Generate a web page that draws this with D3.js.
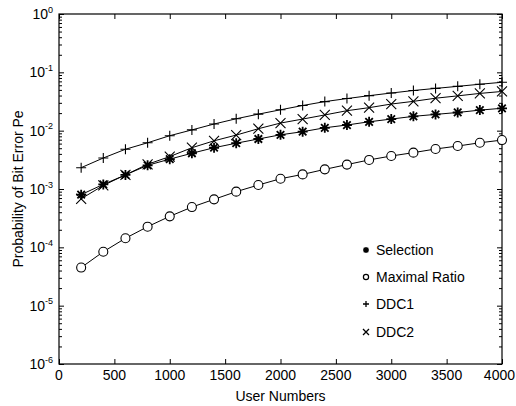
<!DOCTYPE html>
<html>
<head>
<meta charset="utf-8">
<script src="https://cdn.jsdelivr.net/npm/d3@7"></script>
<style>
  html, body { margin: 0; padding: 0; background: #fff; }
  svg text { font-family: "Liberation Sans", Arial, sans-serif; fill: #000; }
</style>
</head>
<body>
<svg id="chart" width="516" height="406"></svg>
<script>
// ---- data ----
const users = [200, 400, 600, 800, 1000, 1200, 1400, 1600, 1800, 2000,
               2200, 2400, 2600, 2800, 3000, 3200, 3400, 3600, 3800, 4000];
const selection = [8.0e-4, 1.2e-3, 1.74e-3, 2.55e-3, 3.25e-3, 4.1e-3, 5.1e-3, 6.1e-3, 7.2e-3, 8.5e-3,
                   9.6e-3, 1.12e-2, 1.25e-2, 1.42e-2, 1.58e-2, 1.76e-2, 1.9e-2, 2.05e-2, 2.25e-2, 2.42e-2];
const maximalRatio = [4.5e-5, 8.4e-5, 1.43e-4, 2.26e-4, 3.4e-4, 4.9e-4, 6.65e-4, 9.0e-4, 1.17e-3, 1.5e-3,
                      1.78e-3, 2.17e-3, 2.62e-3, 3.15e-3, 3.68e-3, 4.2e-3, 4.85e-3, 5.45e-3, 6.2e-3, 6.9e-3];
const ddc1 = [2.32e-3, 3.4e-3, 4.8e-3, 6.2e-3, 8.2e-3, 1.03e-2, 1.3e-2, 1.6e-2, 1.92e-2, 2.28e-2,
              2.7e-2, 3.15e-2, 3.55e-2, 3.98e-2, 4.42e-2, 4.88e-2, 5.3e-2, 5.75e-2, 6.25e-2, 6.75e-2];
const ddc2 = [6.8e-4, 1.15e-3, 1.75e-3, 2.65e-3, 3.6e-3, 5.1e-3, 6.7e-3, 8.4e-3, 1.08e-2, 1.35e-2,
              1.58e-2, 1.86e-2, 2.2e-2, 2.48e-2, 2.86e-2, 3.18e-2, 3.6e-2, 3.95e-2, 4.35e-2, 4.7e-2];
const seriesNames = ["Selection", "Maximal Ratio", "DDC1", "DDC2"];
const seriesMarkers = ["star", "circle", "plus", "cross"];
const xTickValues = [0, 500, 1000, 1500, 2000, 2500, 3000, 3500, 4000];
const yExponents = [0, -1, -2, -3, -4, -5, -6];
const xTitle = "User Numbers";
const yTitle = "Probability of Bit Error  Pe";

// ---- layout ----
const svg = d3.select("#chart");
const pLeft = 59, pRight = 502, pTop = 14, pBottom = 364;
const fs = 14;
const x = d3.scaleLinear().domain([0, 4000]).range([pLeft, pRight]);
const y = d3.scaleLog().domain([1e-6, 1]).range([pBottom, pTop]);

function markerPath(type, s) {
  const p = d3.path();
  if (type === "plus" || type === "star") {
    p.moveTo(-s, 0); p.lineTo(s, 0);
    p.moveTo(0, -s); p.lineTo(0, s);
  }
  if (type === "cross" || type === "star") {
    const k = type === "star" ? s * 0.75 : s;
    p.moveTo(-k, -k); p.lineTo(k, k);
    p.moveTo(-k, k); p.lineTo(k, -k);
  }
  return p.toString();
}

// ---- axes ----
const minorVals = [];
for (let e = -6; e < 0; e++) for (let m = 2; m <= 9; m++) minorVals.push(m * Math.pow(10, e));
const majorVals = yExponents.map(e => Math.pow(10, e));

function styleAxis(g) {
  g.select(".domain").remove();
  g.selectAll("line").attr("stroke", "#000").attr("stroke-width", 1);
  g.selectAll("text").remove();
}
svg.append("g").attr("transform", `translate(0,${pBottom})`)
  .call(d3.axisBottom(x).tickValues(xTickValues).tickSize(-5).tickFormat("")).call(styleAxis);
svg.append("g").attr("transform", `translate(0,${pTop})`)
  .call(d3.axisTop(x).tickValues(xTickValues).tickSize(-5).tickFormat("")).call(styleAxis);
svg.append("g").attr("transform", `translate(${pLeft},0)`)
  .call(d3.axisLeft(y).tickValues(majorVals).tickSize(-5).tickFormat("")).call(styleAxis);
svg.append("g").attr("transform", `translate(${pRight},0)`)
  .call(d3.axisRight(y).tickValues(majorVals).tickSize(-5).tickFormat("")).call(styleAxis);
svg.append("g").attr("transform", `translate(${pLeft},0)`)
  .call(d3.axisLeft(y).tickValues(minorVals).tickSize(-3).tickFormat("")).call(styleAxis);
svg.append("g").attr("transform", `translate(${pRight},0)`)
  .call(d3.axisRight(y).tickValues(minorVals).tickSize(-3).tickFormat("")).call(styleAxis);

svg.append("rect").attr("x", pLeft).attr("y", pTop)
  .attr("width", pRight - pLeft).attr("height", pBottom - pTop)
  .attr("fill", "none").attr("stroke", "#000").attr("stroke-width", 1.2);

// x tick labels (last one kept inside the window edge)
svg.append("g").selectAll("text").data(xTickValues).join("text")
  .attr("x", d => d === 4000 ? 515 : x(d)).attr("y", pBottom + 16)
  .attr("text-anchor", d => d === 4000 ? "end" : "middle").attr("font-size", fs)
  .text(d => d);

// y tick labels: 10^e
const yl = svg.append("g").selectAll("text").data(yExponents).join("text")
  .attr("x", pLeft - 6).attr("y", d => y(Math.pow(10, d)) + 5)
  .attr("text-anchor", "end").attr("font-size", fs);
yl.append("tspan").text("10");
yl.append("tspan").attr("dy", -6.5).attr("font-size", 9).text(d => d === 0 ? "0" : "-" + Math.abs(d));

// titles
svg.append("text").attr("x", (pLeft + pRight) / 2).attr("y", pBottom + 37)
  .attr("text-anchor", "middle").attr("font-size", fs).text(xTitle);
svg.append("text").attr("transform", `translate(23,${(pTop + pBottom) / 2}) rotate(-90)`)
  .attr("text-anchor", "middle").attr("font-size", fs).text(yTitle);

// ---- series ----
const allSeries = [selection, maximalRatio, ddc1, ddc2];
const line = d3.line().x((d, i) => x(users[i])).y(d => y(d));
const plot = svg.append("g");
allSeries.forEach((vals, si) => {
  plot.append("path").attr("d", line(vals))
    .attr("fill", "none").attr("stroke", "#000").attr("stroke-width", 1);
  const mk = seriesMarkers[si];
  const g = plot.append("g");
  vals.forEach((v, i) => {
    const cx = x(users[i]), cy = y(v);
    if (mk === "circle") {
      g.append("circle").attr("cx", cx).attr("cy", cy).attr("r", 4.5)
        .attr("fill", "#fff").attr("stroke", "#000").attr("stroke-width", 1.1);
    } else {
      g.append("path").attr("transform", `translate(${cx},${cy})`)
        .attr("d", markerPath(mk, 5))
        .attr("fill", "none").attr("stroke", "#000")
        .attr("stroke-width", mk === "star" ? 1.8 : 1.1);
    }
  });
});

// ---- legend ----
const legY = [250, 277, 304, 332];
const legMarkX = 366, legTextX = 376;
const lg = svg.append("g");
seriesNames.forEach((name, i) => {
  const cy = legY[i];
  const mk = seriesMarkers[i];
  if (mk === "circle") {
    lg.append("circle").attr("cx", legMarkX).attr("cy", cy).attr("r", 2.6)
      .attr("fill", "none").attr("stroke", "#000").attr("stroke-width", 1.2);
  } else {
    lg.append("path").attr("transform", `translate(${legMarkX},${cy})`)
      .attr("d", markerPath(mk, 3))
      .attr("fill", "none").attr("stroke", "#000").attr("stroke-width", mk === "star" ? 1.5 : 1.3);
  }
  lg.append("text").attr("x", legTextX).attr("y", cy + 5).attr("font-size", fs).text(name);
});
</script>
</body>
</html>
